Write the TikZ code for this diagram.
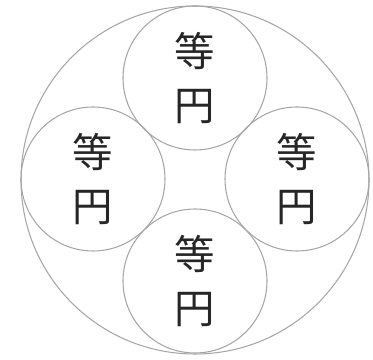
\documentclass[tikz,border=0pt]{standalone}
\usepackage{fontspec}
\newfontfamily\cjk{Noto Sans CJK SC}
\usetikzlibrary{positioning}
\tikzset{
  outerring/.style={draw=black!35, line width=0.6pt, circle, minimum size=6.96cm, inner sep=0pt},
  equalcircle/.style={draw=black!35, line width=0.6pt, circle, minimum size=2.88cm, inner sep=0pt, align=center, font=\cjk\fontsize{23}{31}\selectfont, text=black!85}
}
\begin{document}
\begin{tikzpicture}[node distance=0pt]
\useasboundingbox (-3.9,-3.6) rectangle (3.56,3.6);
\node[outerring] (outer) at (0,0) {};
\node[equalcircle] (top) at (0,2.04) {等\\円};
\node[equalcircle] (left) at (-2.04,0.02) {等\\円};
\node[equalcircle] (right) at (2.04,0.02) {等\\円};
\node[equalcircle] (bottom) at (0,-2.02) {等\\円};
\end{tikzpicture}
\end{document}
